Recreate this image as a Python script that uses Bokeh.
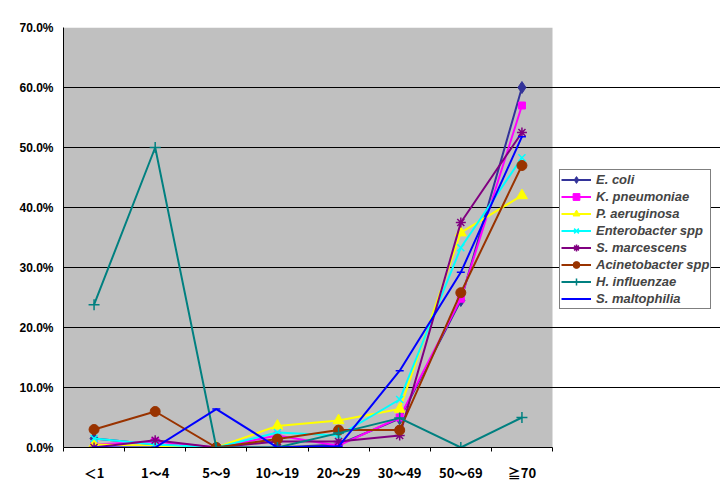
from bokeh.plotting import figure
from bokeh.models import Legend, LegendItem, FixedTicker, Range1d, NumeralTickFormatter, BoxAnnotation
from bokeh.embed import file_html
from bokeh.resources import INLINE

age_groups = ["＜1", "1～4", "5～9", "10～19", "20～29", "30～49", "50～69", "≧70"]

e_coli        = [1.5, 0.5, 0.0, 0.0, 0.5, 4.8, 24.5, 60.0]
k_pneumoniae  = [0.5, 1.0, 0.0, 2.0, 0.3, 5.0, 24.8, 57.0]
p_aeruginosa  = [0.5, 0.3, 0.0, 3.6, 4.5, 6.4, 35.8, 42.0]
enterobacter  = [1.5, 0.5, 0.0, 2.5, 2.0, 8.0, 33.3, 48.3]
s_marcescens  = [0.0, 1.2, 0.0, 1.0, 1.0, 2.0, 37.5, 52.5]
acinetobacter = [3.0, 6.0, 0.0, 1.4, 2.9, 2.9, 25.8, 47.0]
h_influenzae  = [23.8, 50.0, 0.0, 0.0, 2.4, 4.9, 0.0, 5.0]
s_maltophilia = [0.0, 0.0, 6.4, 0.0, 0.2, 12.8, 29.2, 51.8]

y_ticks = [0.0, 0.1, 0.2, 0.3, 0.4, 0.5, 0.6, 0.7]

series = [
    ("E. coli", e_coli, "#333399", "diamond", 12),
    ("K. pneumoniae", k_pneumoniae, "#FF00FF", "square", 7),
    ("P. aeruginosa", p_aeruginosa, "#FFFF00", "triangle", 11),
    ("Enterobacter spp", enterobacter, "#00FFFF", "x", 10),
    ("S. marcescens", s_marcescens, "#800080", "asterisk", 10),
    ("Acinetobacter spp", acinetobacter, "#993300", "circle", 10),
    ("H. influenzae", h_influenzae, "#008080", "cross", 11),
    ("S. maltophilia", s_maltophilia, "#0000FF", "dash", 8),
]

n = len(age_groups)
xs = [i + 0.5 for i in range(n)]

W, H = 720, 485
left_border, plot_w = 63, 489
x_end = n * (W - left_border) / plot_w

p = figure(width=W, height=H, output_backend="svg", toolbar_location=None,
           x_range=Range1d(0, x_end), y_range=Range1d(0, 0.7),
           min_border_left=left_border, min_border_right=0, min_border_top=27, min_border_bottom=38)
p.background_fill_color = "white"
p.border_fill_color = "white"
p.outline_line_color = None

p.add_layout(BoxAnnotation(left=0, right=n, bottom=0, top=0.7, fill_color="#C0C0C0",
                           fill_alpha=1, line_color=None, level="image"))

items = []
for name, vals, color, marker, size in series:
    ys = [v / 100 for v in vals]
    r1 = p.line(xs, ys, line_color=color, line_width=2)
    r2 = p.scatter(xs, ys, marker=marker, size=size, fill_color=color,
                   line_color=color, line_width=1.5 if marker in ("x", "asterisk", "cross", "dash") else 1)
    items.append(LegendItem(label=name, renderers=[r1, r2]))

legend = Legend(items=items, location=(496, 138), orientation="vertical",
                border_line_color="black", border_line_width=1,
                background_fill_color="white", background_fill_alpha=1,
                label_text_font="Liberation Sans", label_text_font_style="bold italic",
                label_text_font_size="13px", glyph_width=30, glyph_height=17,
                label_height=17, label_standoff=5, spacing=0, padding=1, margin=0)
p.add_layout(legend, "center")

# y axis
p.yaxis.ticker = FixedTicker(ticks=y_ticks)
p.yaxis.formatter = NumeralTickFormatter(format="0.0%")
p.yaxis.major_tick_out = 0
p.yaxis.major_tick_in = 0
p.yaxis.minor_tick_line_color = None
p.yaxis.axis_line_color = "black"
p.yaxis.axis_line_width = 1
p.yaxis.major_label_text_font = "Liberation Sans"
p.yaxis.major_label_text_font_style = "bold"
p.yaxis.major_label_text_font_size = "12px"
p.yaxis.major_label_text_color = "black"
p.yaxis.major_label_standoff = 10

# x axis
p.xaxis.ticker = FixedTicker(ticks=xs, minor_ticks=list(range(n + 1)))
p.xaxis.bounds = (0, n)
p.xaxis.major_label_overrides = {x: lab for x, lab in zip(xs, age_groups)}
p.xaxis.major_tick_line_color = None
p.xaxis.minor_tick_out = 4
p.xaxis.minor_tick_in = 0
p.xaxis.minor_tick_line_color = "black"
p.xaxis.axis_line_color = "black"
p.xaxis.major_label_text_font = "Noto Sans CJK JP"
p.xaxis.major_label_text_font_style = "bold"
p.xaxis.major_label_text_font_size = "13px"
p.xaxis.major_label_text_color = "black"
p.xaxis.major_label_standoff = 9

p.xgrid.grid_line_color = None
p.ygrid.ticker = FixedTicker(ticks=y_ticks)
p.ygrid.bounds = (0, n)
p.ygrid.grid_line_color = "black"
p.ygrid.grid_line_width = 1

open("out.html", "w").write(file_html(p, INLINE))
